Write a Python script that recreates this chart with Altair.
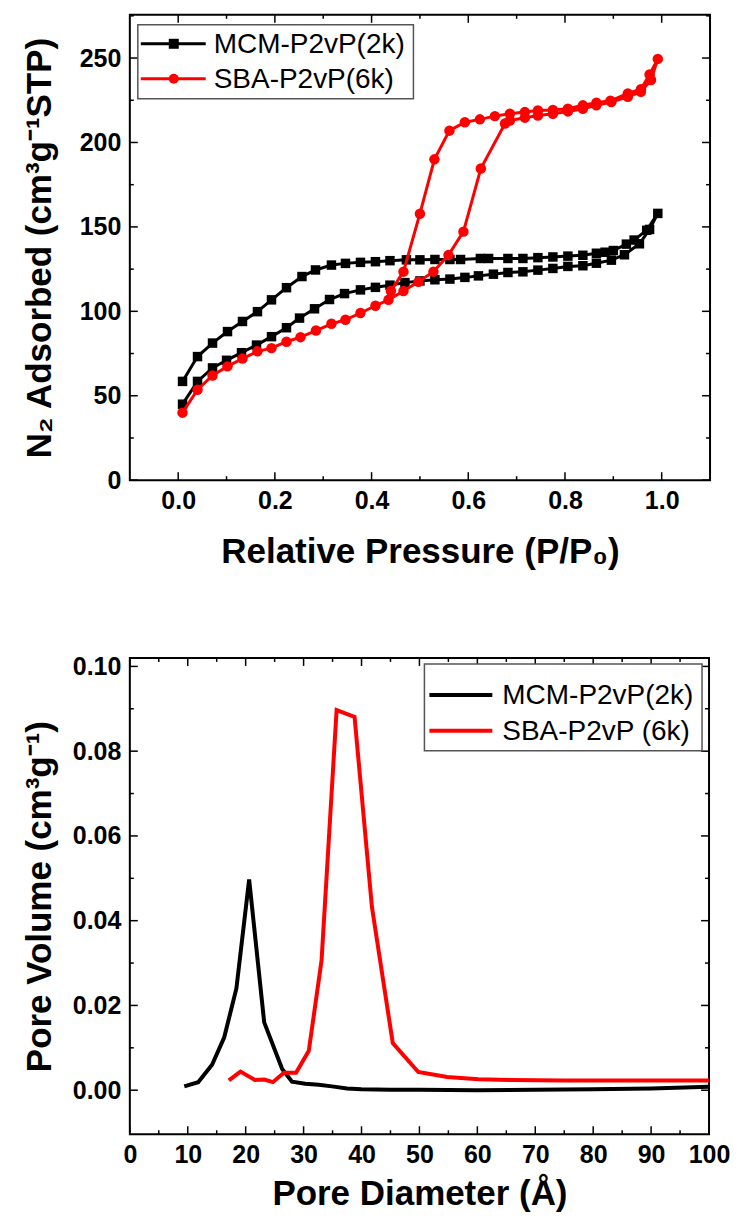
import altair as alt
import pandas as pd

# ---------------- Top chart: N2 isotherms ----------------
top_series = ["MCM-P2vP(2k)", "SBA-P2vP(6k)"]
top_colors = ["#000000", "#ff0000"]
top_shapes = ["square", "circle"]

mcm_ads_p = [0.009, 0.040, 0.071, 0.100, 0.131, 0.162, 0.193, 0.224, 0.251, 0.282, 0.313, 0.344,
             0.377, 0.408, 0.438, 0.469, 0.500, 0.531, 0.562, 0.593, 0.621, 0.652, 0.682, 0.713,
             0.744, 0.775, 0.806, 0.837, 0.865, 0.896, 0.923, 0.954, 0.975, 0.992]
mcm_ads_v = [45.0, 58.5, 66.5, 71.0, 75.5, 80.0, 85.0, 90.3, 96.0, 101.5, 107.0, 110.5,
             112.7, 114.2, 115.5, 117.0, 118.0, 118.7, 119.1, 120.1, 121.0, 122.0, 123.0, 123.4,
             124.4, 125.4, 126.6, 127.0, 128.5, 130.3, 133.5, 140.0, 148.5, 158.0]
mcm_des_p = [0.969, 0.943, 0.927, 0.900, 0.883, 0.865, 0.837, 0.806, 0.775, 0.744, 0.713, 0.682,
             0.642, 0.625, 0.584, 0.562, 0.531, 0.500, 0.472, 0.438, 0.408, 0.377, 0.346, 0.317,
             0.284, 0.256, 0.224, 0.193, 0.164, 0.133, 0.102, 0.071, 0.040, 0.009]
mcm_des_v = [148.0, 142.2, 139.8, 136.0, 135.0, 134.4, 133.2, 132.7, 132.2, 131.8, 131.3, 131.3,
             131.3, 131.3, 130.7, 130.7, 130.7, 130.5, 130.5, 130.0, 129.4, 129.0, 128.4, 127.4,
             124.5, 120.6, 114.0, 106.8, 99.8, 94.0, 88.0, 81.2, 73.2, 58.5]

sba_ads_p = [0.009, 0.040, 0.071, 0.102, 0.133, 0.164, 0.193, 0.224, 0.253, 0.285, 0.317, 0.346,
             0.377, 0.408, 0.435, 0.466, 0.497, 0.528, 0.559, 0.590, 0.626, 0.676, 0.686, 0.717,
             0.744, 0.775, 0.806, 0.837, 0.865, 0.896, 0.930, 0.957, 0.978, 0.992]
sba_ads_v = [40.0, 53.6, 62.0, 67.4, 72.0, 76.3, 78.2, 82.0, 84.7, 88.6, 92.6, 95.0,
             99.0, 103.3, 106.8, 112.0, 117.5, 123.5, 133.3, 147.2, 184.6, 211.2, 213.0, 214.7,
             216.0, 217.0, 218.4, 220.0, 222.0, 224.0, 227.0, 230.0, 237.0, 249.5]
sba_des_p = [0.975, 0.957, 0.930, 0.894, 0.865, 0.837, 0.806, 0.775, 0.744, 0.717, 0.686, 0.655,
             0.624, 0.593, 0.561, 0.530, 0.500, 0.466, 0.440]
sba_des_v = [240.3, 231.5, 229.0, 224.7, 223.5, 222.0, 220.0, 219.3, 219.0, 218.0, 217.0, 215.6,
             213.7, 212.0, 207.0, 190.0, 157.8, 123.5, 112.0]

top_x_major = [0.0, 0.2, 0.4, 0.6, 0.8, 1.0]
top_x_minor = [0.1, 0.3, 0.5, 0.7, 0.9]
top_y_major = [0, 50, 100, 150, 200, 250]
top_y_minor = [25, 75, 125, 175, 225, 275]

# ---------------- Bottom chart: pore size distribution ----------------
bot_series = ["MCM-P2vP(2k)", "SBA-P2vP (6k)"]
bot_colors = ["#000000", "#ff0000"]

mcm_d = [9.4, 11.8, 14.2, 16.3, 18.4, 20.6, 23.2, 26.3, 28.0, 30.3, 32.6, 34.9, 37.5, 40.0,
         45.0, 50.0, 60.0, 70.0, 80.0, 90.0, 100.0]
mcm_pv = [0.0009, 0.0019, 0.0060, 0.0125, 0.0240, 0.0497, 0.0160, 0.0050, 0.0020, 0.0015,
          0.0013, 0.0009, 0.0004, 0.0002, 0.0001, 0.0001, 0.0000, 0.0001, 0.0002, 0.0004, 0.0008]
sba_d = [17.1, 19.1, 21.6, 23.2, 24.7, 26.6, 28.7, 30.9, 33.1, 35.7, 38.8, 41.8, 45.4, 49.8,
         54.8, 60.2, 66.0, 75.0, 85.0, 100.0]
sba_pv = [0.0023, 0.0044, 0.0024, 0.0025, 0.0019, 0.0041, 0.0041, 0.0093, 0.0306, 0.0897,
          0.0881, 0.0432, 0.0111, 0.0043, 0.0031, 0.0026, 0.0024, 0.0023, 0.0023, 0.0023]

bot_x_major = [0, 10, 20, 30, 40, 50, 60, 70, 80, 90, 100]
bot_x_minor = [5, 15, 25, 35, 45, 55, 65, 75, 85, 95]
bot_y_major = [0.0, 0.02, 0.04, 0.06, 0.08, 0.10]
bot_y_minor = [0.01, 0.03, 0.05, 0.07, 0.09]

FONT = "Liberation Sans"
TW, TH = 581, 466
BW, BH = 580, 477


def tick_layers(X, Y, xmaj, xmin, ymaj, ymin, W, H):
    layers = []
    for vals, L in ((xmaj, 8), (xmin, 4)):
        base = alt.Chart(pd.DataFrame({"x": vals})).mark_rule(color="black", strokeWidth=1.5)
        layers.append(base.encode(x=X, y=alt.value(H), y2=alt.value(H - L)))
        layers.append(base.encode(x=X, y=alt.value(0), y2=alt.value(L)))
    for vals, L in ((ymaj, 8), (ymin, 4)):
        base = alt.Chart(pd.DataFrame({"y": vals})).mark_rule(color="black", strokeWidth=1.5)
        layers.append(base.encode(y=Y, x=alt.value(0), x2=alt.value(L)))
        layers.append(base.encode(y=Y, x=alt.value(W), x2=alt.value(W - L)))
    return layers


def legend_layers(names, colors, shapes, box, x_line, x_mark, x_text, y0, dy, lw):
    one = pd.DataFrame({"k": [0]})
    layers = [alt.Chart(one).mark_rect(fill="white", stroke="#555555", strokeWidth=1.5).encode(
        x=alt.value(box[0]), x2=alt.value(box[1]), y=alt.value(box[2]), y2=alt.value(box[3]))]
    for i, (nm, col) in enumerate(zip(names, colors)):
        yy = y0 + dy * i
        layers.append(alt.Chart(one).mark_rule(color=col, strokeWidth=lw).encode(
            x=alt.value(x_line[0]), x2=alt.value(x_line[1]), y=alt.value(yy)))
        if shapes is not None:
            layers.append(alt.Chart(one).mark_point(shape=shapes[i], filled=True, color=col,
                                                    size=100, opacity=1).encode(
                x=alt.value(x_mark), y=alt.value(yy)))
        layers.append(alt.Chart(pd.DataFrame({"label": [nm]})).mark_text(
            align="left", baseline="middle", font=FONT, fontSize=28, color="black").encode(
            x=alt.value(x_text), y=alt.value(yy + 1), text="label:N"))
    return layers


def x_axis(values, fmt, title, tpad):
    return alt.Axis(values=values, format=fmt, title=title, ticks=False, tickSize=0,
                    domain=False, grid=False, labelFlush=False, labelPadding=8,
                    titlePadding=tpad)


def y_axis(values, fmt, title):
    return alt.Axis(values=values, format=fmt, title=title, ticks=False, tickSize=0,
                    domain=False, grid=False, labelPadding=9, titlePadding=14,
                    minExtent=58, maxExtent=58)


# ---- top chart ----
Xt = alt.X("x:Q", scale=alt.Scale(domain=[-0.1, 1.1], nice=False, zero=False),
           axis=x_axis(top_x_major, ".1f", "Relative Pressure (P/P₀)", 21))
Yt = alt.Y("y:Q", scale=alt.Scale(domain=[0, 275.6], nice=False, zero=False),
           axis=y_axis(top_y_major, "d", "N₂ Adsorbed (cm³g⁻¹STP)"))

top_paths = [(mcm_ads_p + mcm_des_p, mcm_ads_v + mcm_des_v),
             (sba_ads_p + sba_des_p, sba_ads_v + sba_des_v)]
top_layers = []
for i, (pp, vv) in enumerate(top_paths):
    df = pd.DataFrame({"x": pp, "y": vv, "seq": list(range(len(pp)))})
    base = alt.Chart(df)
    top_layers.append(base.mark_line(color=top_colors[i], strokeWidth=3).encode(
        x=Xt, y=Yt, order="seq:Q"))
    top_layers.append(base.mark_point(shape=top_shapes[i], filled=True, color=top_colors[i],
                                      size=90 if i == 0 else 110, opacity=1).encode(x=Xt, y=Yt))
top_layers += tick_layers(Xt, Yt, top_x_major, top_x_minor, top_y_major, top_y_minor, TW, TH)
top_layers += legend_layers(top_series, top_colors, top_shapes, (8, 284, 10, 84),
                            (11, 76), 44, 84, 29, 35, 3)
top = alt.layer(*top_layers).properties(width=TW, height=TH)

# ---- bottom chart ----
Xb = alt.X("x:Q", scale=alt.Scale(domain=[0, 100], nice=False, zero=False),
           axis=x_axis(bot_x_major, "d", "Pore Diameter (Å)", 9))
Yb = alt.Y("y:Q", scale=alt.Scale(domain=[-0.0104, 0.102], nice=False, zero=False),
           axis=y_axis(bot_y_major, ".2f", "Pore Volume (cm³g⁻¹)"))

bot_paths = [(mcm_d, mcm_pv), (sba_d, sba_pv)]
bot_layers = []
for i, (dd, vv) in enumerate(bot_paths):
    df = pd.DataFrame({"x": dd, "y": vv, "seq": list(range(len(dd)))})
    bot_layers.append(alt.Chart(df).mark_line(color=bot_colors[i], strokeWidth=4,
                                              strokeJoin="miter").encode(
        x=Xb, y=Yb, order="seq:Q"))
bot_layers += tick_layers(Xb, Yb, bot_x_major, bot_x_minor, bot_y_major, bot_y_minor, BW, BH)
bot_layers += legend_layers(bot_series, bot_colors, None, (295, 573, 6, 93),
                            (300, 363), 0, 373, 37, 36, 4)
bottom = alt.layer(*bot_layers).properties(width=BW, height=BH)

chart = alt.vconcat(top, bottom, spacing=83).properties(
    padding={"left": 14, "top": 4, "right": 0, "bottom": 0},
    background="white",
).configure_view(stroke="black", strokeWidth=2).configure_axis(
    labelFont=FONT, labelFontWeight="bold", labelFontSize=25, labelColor="black",
    titleFont=FONT, titleFontWeight="bold", titleFontSize=35, titleColor="black",
    labelOverlap=False, labelBound=False,
)

chart.save("out.html", embed_options={"renderer": "svg", "actions": False})
